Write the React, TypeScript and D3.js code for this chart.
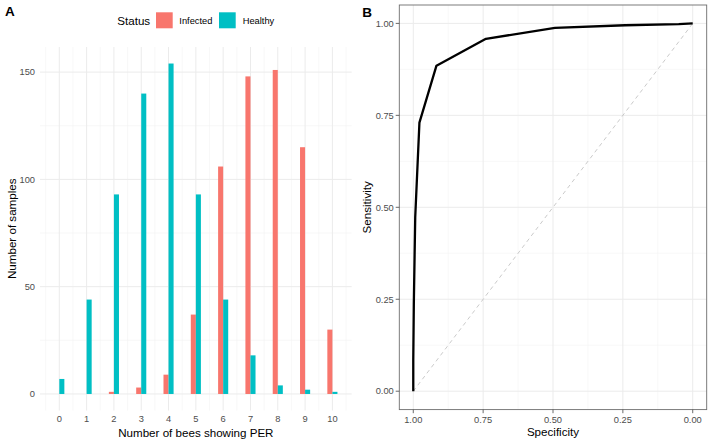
import React from "react";
import * as d3 from "d3";

// ---------- Data: panel A (histogram) ----------
const beeCounts = [0, 1, 2, 3, 4, 5, 6, 7, 8, 9, 10];
const infectedSamples = [0, 0, 1, 3, 9, 37, 106, 148, 151, 115, 30];
const healthySamples = [7, 44, 93, 140, 154, 93, 44, 18, 4, 2, 1];
const statusLabels = ["Infected", "Healthy"];
const statusColors = ["#F8766D", "#00BFC4"];
const yTicksA = [0, 50, 100, 150];
const yMinorA = [25, 75, 125];

// ---------- Data: panel B (ROC curve) ----------
const rocSpecificity = [1, 1, 1, 0.998, 0.993, 0.978, 0.917, 0.74, 0.493, 0.242, 0.05, 0];
const rocSensitivity = [0, 0.012, 0.085, 0.24, 0.473, 0.73, 0.885, 0.958, 0.988, 0.995, 0.998, 1];
const ticksB = [0, 0.25, 0.5, 0.75, 1];
const minorB = [0.125, 0.375, 0.625, 0.875];

const FONT = "'Liberation Sans', Arial, Helvetica, sans-serif";
const TICK_COLOR = "#4d4d4d";
const GRID_MAJOR = "#ebebeb";
const GRID_MINOR = "#f3f3f3";

function PanelA() {
  const left = 40, right = 351.7, top = 47, bottom = 410.5;
  const x = d3.scaleLinear().domain([-0.707, 10.707]).range([left, right]);
  const y = d3.scaleLinear().domain([-7.7, 161.7]).range([bottom, top]);
  const w = 0.185;
  const minorX = d3.range(-0.5, 11, 1);
  const series = [infectedSamples, healthySamples];
  return (
    <g>
      <text x={5} y={15.7} fontFamily={FONT} fontWeight="bold" fontSize={13.5} fill="#000">A</text>
      {/* legend */}
      <text x={117.3} y={25} fontFamily={FONT} fontSize={11.6} fill="#000">Status</text>
      <rect x={156} y={12.3} width={16.7} height={16} fill={statusColors[0]} />
      <text x={179.3} y={24.3} fontFamily={FONT} fontSize={9.3} fill="#000">{statusLabels[0]}</text>
      <rect x={219} y={12.3} width={16.7} height={16} fill={statusColors[1]} />
      <text x={242.7} y={24.3} fontFamily={FONT} fontSize={9.3} fill="#000">{statusLabels[1]}</text>

      {/* grid */}
      {minorX.map((v) => (
        <line key={"mx" + v} x1={x(v)} x2={x(v)} y1={top} y2={bottom} stroke={GRID_MINOR} strokeWidth={0.6} />
      ))}
      {yMinorA.map((v) => (
        <line key={"my" + v} x1={left} x2={right} y1={y(v)} y2={y(v)} stroke={GRID_MINOR} strokeWidth={0.6} />
      ))}
      {beeCounts.map((v) => (
        <line key={"gx" + v} x1={x(v)} x2={x(v)} y1={top} y2={bottom} stroke={GRID_MAJOR} strokeWidth={1} />
      ))}
      {yTicksA.map((v) => (
        <line key={"gy" + v} x1={left} x2={right} y1={y(v)} y2={y(v)} stroke={GRID_MAJOR} strokeWidth={1} />
      ))}

      {/* bars */}
      {series.map((vals, si) =>
        vals.map((val, i) =>
          val > 0 ? (
            <rect
              key={si + "-" + i}
              x={x(beeCounts[i] + (si === 0 ? -w : 0))}
              width={x(w) - x(0)}
              y={y(val)}
              height={y(0) - y(val)}
              fill={statusColors[si]}
            />
          ) : null
        )
      )}

      {/* axes labels */}
      {yTicksA.map((v) => (
        <text key={"ty" + v} x={35} y={y(v)} dy="0.35em" textAnchor="end" fontFamily={FONT} fontSize={9.3} fill={TICK_COLOR}>
          {v}
        </text>
      ))}
      {beeCounts.map((v) => (
        <text key={"tx" + v} x={x(v)} y={422.3} textAnchor="middle" fontFamily={FONT} fontSize={9.3} fill={TICK_COLOR}>
          {v}
        </text>
      ))}
      <text x={(left + right) / 2} y={436.5} textAnchor="middle" fontFamily={FONT} fontSize={11.6} fill="#000">
        Number of bees showing PER
      </text>
      <text
        transform={`translate(15.8, ${(top + bottom) / 2}) rotate(-90)`}
        textAnchor="middle"
        fontFamily={FONT}
        fontSize={11.6}
        fill="#000"
      >
        Number of samples
      </text>
    </g>
  );
}

function PanelB() {
  const left = 399.3, right = 706.7, top = 5, bottom = 409.6;
  const x = d3.scaleLinear().domain([1.05, -0.05]).range([left, right]);
  const y = d3.scaleLinear().domain([-0.05, 1.05]).range([bottom, top]);
  const pts: [number, number][] = rocSpecificity.map((s, i) => [s, rocSensitivity[i]]);
  const line = d3
    .line<[number, number]>()
    .x((d) => x(d[0]))
    .y((d) => y(d[1]));
  const fmt = d3.format(".2f");
  return (
    <g>
      <text x={362.3} y={16.7} fontFamily={FONT} fontWeight="bold" fontSize={13.5} fill="#000">B</text>
      <rect x={left} y={top} width={right - left} height={bottom - top} fill="#fff" />
      {minorB.map((v) => (
        <g key={"m" + v}>
          <line x1={x(v)} x2={x(v)} y1={top} y2={bottom} stroke={GRID_MINOR} strokeWidth={0.6} />
          <line x1={left} x2={right} y1={y(v)} y2={y(v)} stroke={GRID_MINOR} strokeWidth={0.6} />
        </g>
      ))}
      {ticksB.map((v) => (
        <g key={"g" + v}>
          <line x1={x(v)} x2={x(v)} y1={top} y2={bottom} stroke={GRID_MAJOR} strokeWidth={1} />
          <line x1={left} x2={right} y1={y(v)} y2={y(v)} stroke={GRID_MAJOR} strokeWidth={1} />
        </g>
      ))}
      <line
        x1={x(1)}
        y1={y(0)}
        x2={x(0)}
        y2={y(1)}
        stroke="#bdbdbd"
        strokeWidth={0.8}
        strokeDasharray="4,3.5"
      />
      <path d={line(pts) || ""} fill="none" stroke="#000" strokeWidth={2.3} strokeLinejoin="round" />
      <rect x={left} y={top} width={right - left} height={bottom - top} fill="none" stroke="#6e6e6e" strokeWidth={0.9} />
      {ticksB.map((v) => (
        <g key={"t" + v}>
          <line x1={left - 3.6} x2={left} y1={y(v)} y2={y(v)} stroke="#444" strokeWidth={0.8} />
          <line x1={x(v)} x2={x(v)} y1={bottom} y2={bottom + 3.6} stroke="#444" strokeWidth={0.8} />
          <text x={left - 5.5} y={y(v)} dy="0.35em" textAnchor="end" fontFamily={FONT} fontSize={9.3} fill={TICK_COLOR}>
            {fmt(v)}
          </text>
          <text x={x(v)} y={423} textAnchor="middle" fontFamily={FONT} fontSize={9.3} fill={TICK_COLOR}>
            {fmt(v)}
          </text>
        </g>
      ))}
      <text x={(left + right) / 2} y={436} textAnchor="middle" fontFamily={FONT} fontSize={11.6} fill="#000">
        Specificity
      </text>
      <text
        transform={`translate(371.2, ${(top + bottom) / 2}) rotate(-90)`}
        textAnchor="middle"
        fontFamily={FONT}
        fontSize={11.6}
        fill="#000"
      >
        Sensitivity
      </text>
    </g>
  );
}

export default function App() {
  return (
    <svg
      width={713}
      height={445}
      viewBox="0 0 713 445"
      style={{ position: "absolute", left: 0, top: 0, background: "#fff" }}
    >
      <rect x={0} y={0} width={713} height={445} fill="#fff" />
      <PanelA />
      <PanelB />
    </svg>
  );
}
